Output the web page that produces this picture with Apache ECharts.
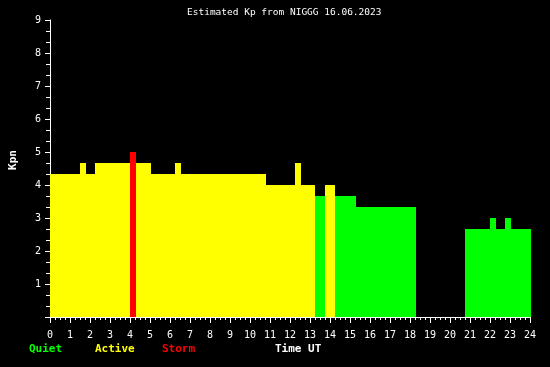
<!DOCTYPE html>
<html>
<head>
<meta charset="utf-8">
<script src="https://cdn.jsdelivr.net/npm/echarts@6/dist/echarts.min.js"></script>
<style>html,body{margin:0;padding:0;background:#000;}#c{width:550px;height:367px;}</style>
</head>
<body>
<div id="c"></div>
<script>
// Interval start (hours UT), interval end, Kp value
const starts = [0, 1.5, 1.8, 2.25, 4.0, 4.3, 5.05, 6.25, 6.55, 10.8, 12.25, 12.55, 13.25, 13.75, 14.25, 15.3, 20.75, 22.0, 22.3, 22.75, 23.05];
const ends   = [1.5, 1.8, 2.25, 4.0, 4.3, 5.05, 6.25, 6.55, 10.8, 12.25, 12.55, 13.25, 13.75, 14.25, 15.3, 18.3, 22.0, 22.3, 22.75, 23.05, 24.05];
const kpValues = [4.333, 4.667, 4.333, 4.667, 5.0, 4.667, 4.333, 4.667, 4.333, 4.0, 4.667, 4.0, 3.667, 4.0, 3.667, 3.333, 2.667, 3.0, 2.667, 3.0, 2.667];
const titleText = 'Estimated Kp from NIGGG 16.06.2023';
const legendItems = ['Quiet', 'Active', 'Storm'];

const GREEN = '#00ff00', YELLOW = '#ffff00', RED = '#ff0000';
function kpColor(v) { return v >= 5 ? RED : (v >= 4 ? YELLOW : GREEN); }

const data = starts.map((s, i) => [s, ends[i], kpValues[i]]);

const chart = echarts.init(document.getElementById('c'), null, {renderer: 'canvas'});
const mono = 'DejaVu Sans Mono';
chart.setOption({
  backgroundColor: '#000',
  animation: false,
  grid: {left: 50, right: 20, top: 20, bottom: 50, containLabel: false},
  xAxis: {
    type: 'value', min: 0, max: 24, interval: 1,
    axisLine: {show: true, lineStyle: {color: '#fff', width: 1}},
    axisTick: {show: true, length: 6, lineStyle: {color: '#fff'}},
    minorTick: {show: true, splitNumber: 4, length: 3, lineStyle: {color: '#fff'}},
    splitLine: {show: false},
    axisLabel: {color: '#fff', fontFamily: mono, fontSize: 10, margin: 13}
  },
  yAxis: {
    type: 'value', min: 0, max: 9, interval: 1,
    axisLine: {show: true, lineStyle: {color: '#fff', width: 1}},
    axisTick: {show: true, length: 5, lineStyle: {color: '#fff'}},
    minorTick: {show: true, splitNumber: 3, length: 4, lineStyle: {color: '#fff'}},
    splitLine: {show: false},
    axisLabel: {color: '#fff', fontFamily: mono, fontSize: 10, margin: 9,
      formatter: v => v === 0 ? '' : String(v)}
  },
  series: [{
    type: 'custom',
    clip: false,
    data: data,
    encode: {x: [0, 1], y: 2},
    renderItem: function (params, api) {
      const p1 = api.coord([api.value(0), api.value(2)]);
      const p2 = api.coord([api.value(1), 0]);
      return {
        type: 'rect',
        shape: {x: Math.round(p1[0]), y: Math.round(p1[1]), width: Math.round(p2[0]) - Math.round(p1[0]), height: Math.round(p2[1]) - Math.round(p1[1])},
        style: {fill: kpColor(api.value(2))}
      };
    },
    z: 1
  }],
  graphic: [
    {type: 'text', left: 187, top: 8, style: {text: titleText, fill: '#fff', font: '9.5px "' + mono + '"'}},
    {type: 'text', x: 13, y: 160, rotation: Math.PI / 2, style: {text: 'Kpn', fill: '#fff', font: 'bold 11px "' + mono + '"', align: 'center', verticalAlign: 'middle'}},
    {type: 'text', left: 29, top: 344, style: {text: legendItems[0], fill: GREEN, font: 'bold 11px "' + mono + '"'}},
    {type: 'text', left: 95, top: 344, style: {text: legendItems[1], fill: YELLOW, font: 'bold 11px "' + mono + '"'}},
    {type: 'text', left: 162, top: 344, style: {text: legendItems[2], fill: RED, font: 'bold 11px "' + mono + '"'}},
    {type: 'text', left: 275, top: 344, style: {text: 'Time UT', fill: '#fff', font: 'bold 11px "' + mono + '"'}}
  ]
});
</script>
</body>
</html>
